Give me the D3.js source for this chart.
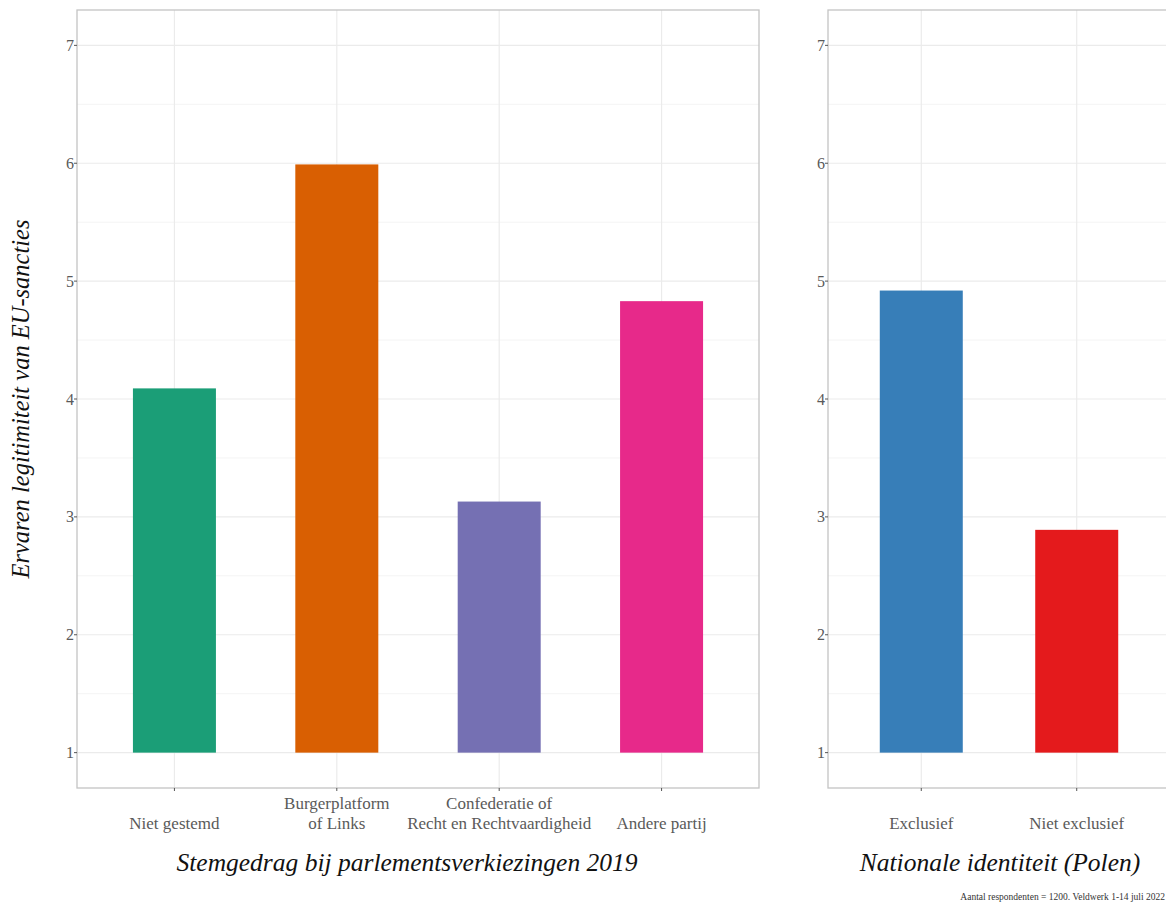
<!DOCTYPE html>
<html>
<head>
<meta charset="utf-8">
<script src="https://cdn.jsdelivr.net/npm/d3@7"></script>
<style>
  html, body { margin: 0; padding: 0; background: #fff; }
  svg { display: block; }
</style>
</head>
<body>
<script>
// ---- data ----
const partyCats = ["Niet gestemd", "Burgerplatform\nof Links", "Confederatie of\nRecht en Rechtvaardigheid", "Andere partij"];
const partyVals = [4.09, 5.99, 3.13, 4.83];
const partyColors = ["#1B9E77", "#D95F02", "#7570B3", "#E7298A"];

const identCats = ["Exclusief", "Niet exclusief"];
const identVals = [4.92, 2.89];
const identColors = ["#377EB8", "#E41A1C"];

const yTicks = [1, 2, 3, 4, 5, 6, 7];
const yMinor = [1.5, 2.5, 3.5, 4.5, 5.5, 6.5];
const yBase = 1;

const leftTitle = "Stemgedrag bij parlementsverkiezingen 2019";
const rightTitle = "Nationale identiteit (Polen)";
const yTitle = "Ervaren legitimiteit van EU-sancties";
const caption = "Aantal respondenten = 1200. Veldwerk 1-14 juli 2022";

// ---- layout ----
const W = 1166, H = 909;
const FONT = "'Liberation Serif', 'Times New Roman', serif";
const svg = d3.select("body").append("svg").attr("width", W).attr("height", H)
  .style("font-family", FONT);

const plotTop = 10, plotBottom = 788;
const y = d3.scaleLinear().domain([0.7, 7.3]).range([plotBottom, plotTop]);

function panel(cats, vals, colors, x0, x1, title, barW, titleX) {
  const g = svg.append("g");
  const x = d3.scalePoint().domain(cats).range([x0, x1]).padding(0.6);

  const clipId = "clip" + Math.round(x0);
  svg.append("clipPath").attr("id", clipId).append("rect")
    .attr("x", x0).attr("y", plotTop).attr("width", x1 - x0).attr("height", plotBottom - plotTop);

  const inner = g.append("g").attr("clip-path", `url(#${clipId})`);
  inner.selectAll(".ymin").data(yMinor).join("line")
    .attr("x1", x0).attr("x2", x1).attr("y1", d => y(d)).attr("y2", d => y(d))
    .attr("stroke", "#f4f4f4").attr("stroke-width", 1);
  inner.selectAll(".ymaj").data(yTicks).join("line")
    .attr("x1", x0).attr("x2", x1).attr("y1", d => y(d)).attr("y2", d => y(d))
    .attr("stroke", "#ebebeb").attr("stroke-width", 1.2);
  inner.selectAll(".xmaj").data(cats).join("line")
    .attr("x1", d => x(d)).attr("x2", d => x(d)).attr("y1", plotTop).attr("y2", plotBottom)
    .attr("stroke", "#ebebeb").attr("stroke-width", 1.2);

  inner.selectAll(".bar").data(cats).join("rect")
    .attr("x", d => x(d) - barW / 2)
    .attr("width", barW)
    .attr("y", (d, i) => y(vals[i]))
    .attr("height", (d, i) => y(yBase) - y(vals[i]))
    .attr("fill", (d, i) => colors[i]);

  g.append("rect").attr("x", x0).attr("y", plotTop).attr("width", x1 - x0).attr("height", plotBottom - plotTop)
    .attr("fill", "none").attr("stroke", "#c4c4c4").attr("stroke-width", 1.3);

  g.selectAll(".yt").data(yTicks).join("line")
    .attr("x1", x0 - 3).attr("x2", x0).attr("y1", d => y(d)).attr("y2", d => y(d))
    .attr("stroke", "#555").attr("stroke-width", 1);
  g.selectAll(".yl").data(yTicks).join("text")
    .attr("x", x0 - 3).attr("y", d => y(d)).attr("dy", "0.35em")
    .attr("text-anchor", "end").attr("font-size", 16).attr("fill", "#5a5a5a")
    .text(d => d);

  g.selectAll(".xt").data(cats).join("line")
    .attr("x1", d => x(d)).attr("x2", d => x(d)).attr("y1", plotBottom).attr("y2", plotBottom + 3)
    .attr("stroke", "#555").attr("stroke-width", 1);
  const xl = g.selectAll(".xl").data(cats).join("text")
    .attr("text-anchor", "middle").attr("font-size", 17).attr("fill", "#5a5a5a");
  xl.each(function(d) {
    const lines = d.split("\n");
    const t = d3.select(this);
    lines.forEach((ln, i) => {
      t.append("tspan").attr("x", x(d))
        .attr("y", 829 - (lines.length - 1 - i) * 20)
        .text(ln);
    });
  });

  g.append("text").attr("x", titleX)
    .attr("y", 871).attr("text-anchor", "middle")
    .attr("font-size", 25.5).attr("font-style", "italic").attr("fill", "#111")
    .text(title);
  return x;
}

panel(partyCats, partyVals, partyColors, 77, 759, leftTitle, 83, 407);
panel(identCats, identVals, identColors, 828, 1170, rightTitle, 83, 1000);

svg.append("text")
  .attr("transform", `translate(29, ${(plotTop + plotBottom) / 2}) rotate(-90)`)
  .attr("text-anchor", "middle").attr("font-size", 24.5).attr("font-style", "italic")
  .attr("fill", "#111").text(yTitle);

svg.append("text").attr("x", 1165).attr("y", 900).attr("text-anchor", "end")
  .attr("font-size", 9.5).attr("fill", "#333").text(caption);
</script>
</body>
</html>
